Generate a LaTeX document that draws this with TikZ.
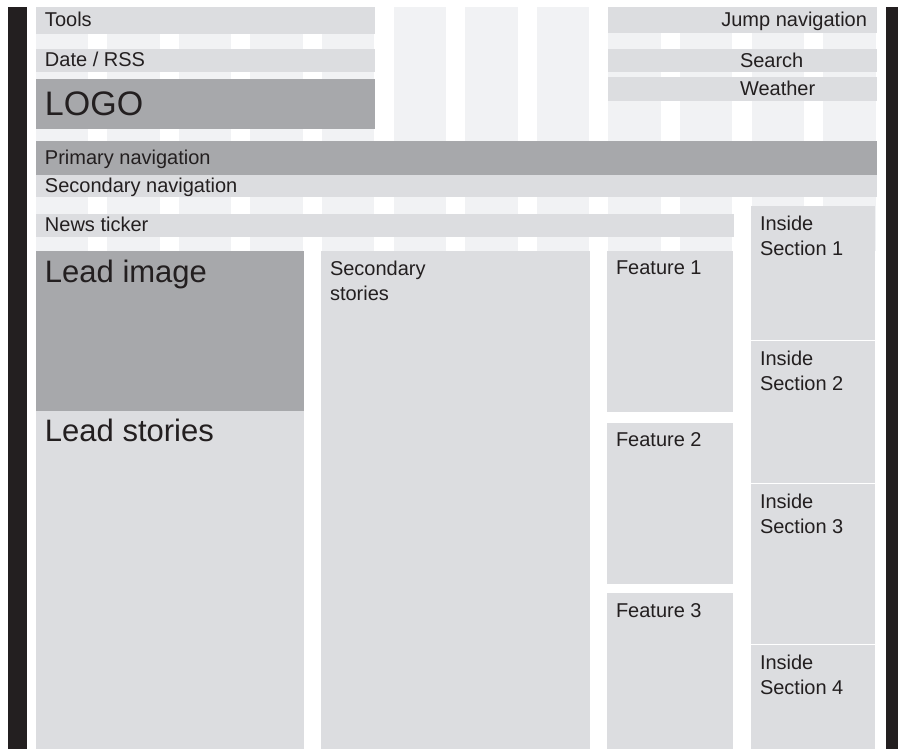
\documentclass[tikz,border=0pt]{standalone}
\usepackage{fontspec}
\setmainfont{Liberation Sans}
\usetikzlibrary{positioning}
\definecolor{pagewhite}{RGB}{255, 255, 255}
\definecolor{gridstripe}{RGB}{241, 242, 244}
\definecolor{panellight}{RGB}{220, 221, 224}
\definecolor{paneldark}{RGB}{167, 168, 171}
\definecolor{edgeblack}{RGB}{35, 31, 32}
\definecolor{inkgray}{RGB}{35, 31, 32}
\tikzset{
    panel/.style={rectangle, fill=panellight, draw=none, inner sep=0pt, outer sep=0pt, anchor=north west},
    heavypanel/.style={panel, fill=paneldark},
    caption/.style={anchor=base west, inner sep=0pt, outer sep=0pt, text=inkgray, align=left, font=\fontsize{20}{25}\selectfont},
    bigcaption/.style={caption, font=\fontsize{31}{36}\selectfont}
}

\begin{document}
\begin{tikzpicture}[x=1pt, y=-1pt]
            \useasboundingbox (0,0) rectangle (898,749);
            \fill[pagewhite] (0,0) rectangle (898,749);
            % grid columns and side bars
            \foreach \i in {0,...,11}
                \fill[gridstripe] (35.5+71.6*\i,7) rectangle ++(52.5,244);
            \fill[edgeblack] (8,7) rectangle (27,749);
            \fill[edgeblack] (886,7) rectangle (898,749);

            % header
            \node (tools) [panel, minimum width=339pt, minimum height=27pt] at (36,7) {};
            \node (date) [panel, minimum width=339pt, minimum height=23pt] at (36,49) {};
            \node (logo) [heavypanel, minimum width=339pt, minimum height=50pt] at (36,79) {};
            \node (jump) [panel, minimum width=269pt, minimum height=26pt] at (608,7) {};
            \node (search) [panel, minimum width=269pt, minimum height=23pt] at (608,49) {};
            \node (weather) [panel, minimum width=269pt, minimum height=24pt] at (608,77) {};
            \node (primary) [heavypanel, minimum width=841pt, minimum height=34pt] at (36,141) {};
            \node (secondary) [panel, minimum width=841pt, minimum height=22pt] at (36,175) {};
            \node (ticker) [panel, minimum width=698pt, minimum height=23pt] at (36,214) {};

            % body
            \node (leadimg) [heavypanel, minimum width=268pt, minimum height=160pt] at (36,251) {};
            \node (leadstories) [panel, minimum width=268pt, minimum height=338pt] at (36,411) {};
            \node (secstories) [panel, minimum width=269pt, minimum height=498pt] at (321,251) {};
            \node (feat1) [panel, minimum width=126pt, minimum height=161pt] at (607,251) {};
            \node (feat2) [panel, minimum width=126pt, minimum height=161pt] at (607,423) {};
            \node (feat3) [panel, minimum width=126pt, minimum height=156pt] at (607,593) {};
            \node (inside1) [panel, minimum width=124pt, minimum height=134pt] at (751,206) {};
            \node (inside2) [panel, minimum width=124pt, minimum height=142pt] at (751,341) {};
            \node (inside3) [panel, minimum width=124pt, minimum height=160pt] at (751,484) {};
            \node (inside4) [panel, minimum width=124pt, minimum height=104pt] at (751,645) {};

            % captions (two-line ones sit on their last line)
            \node (tools-txt) [caption] at ([shift={(9,20)}]tools.north west) {Tools};
            \node (date-txt) [caption] at ([shift={(9,18)}]date.north west) {Date / RSS};
            \node (logo-txt) [bigcaption, font=\fontsize{34}{38}\selectfont] at ([shift={(9,37)}]logo.north west) {LOGO};
            \node (jump-txt) [caption, anchor=base east] at ([shift={(-10,20)}]jump.north east) {Jump navigation};
            \node (search-txt) [caption] at ([shift={(132,19)}]search.north west) {Search};
            \node (weather-txt) [caption] at ([shift={(132,19)}]weather.north west) {Weather};
            \node (primary-txt) [caption] at ([shift={(9,24)}]primary.north west) {Primary navigation};
            \node (secondary-txt) [caption] at ([shift={(9,18)}]secondary.north west) {Secondary navigation};
            \node (ticker-txt) [caption] at ([shift={(9,18)}]ticker.north west) {News ticker};
            \node (leadimg-txt) [bigcaption] at ([shift={(9,31)}]leadimg.north west) {Lead image};
            \node (leadstories-txt) [bigcaption] at ([shift={(9,30)}]leadstories.north west) {Lead stories};
            \node (secstories-txt) [caption] at ([shift={(9,50)}]secstories.north west) {Secondary\\stories};
            \node (feat1-txt) [caption] at ([shift={(9,24)}]feat1.north west) {Feature 1};
            \node (feat2-txt) [caption] at ([shift={(9,23)}]feat2.north west) {Feature 2};
            \node (feat3-txt) [caption] at ([shift={(9,24)}]feat3.north west) {Feature 3};
            \node (inside1-txt) [caption] at ([shift={(9,49)}]inside1.north west) {Inside\\Section 1};
            \node (inside2-txt) [caption] at ([shift={(9,49)}]inside2.north west) {Inside\\Section 2};
            \node (inside3-txt) [caption] at ([shift={(9,49)}]inside3.north west) {Inside\\Section 3};
            \node (inside4-txt) [caption] at ([shift={(9,49)}]inside4.north west) {Inside\\Section 4};
        \end{tikzpicture}
\end{document}
